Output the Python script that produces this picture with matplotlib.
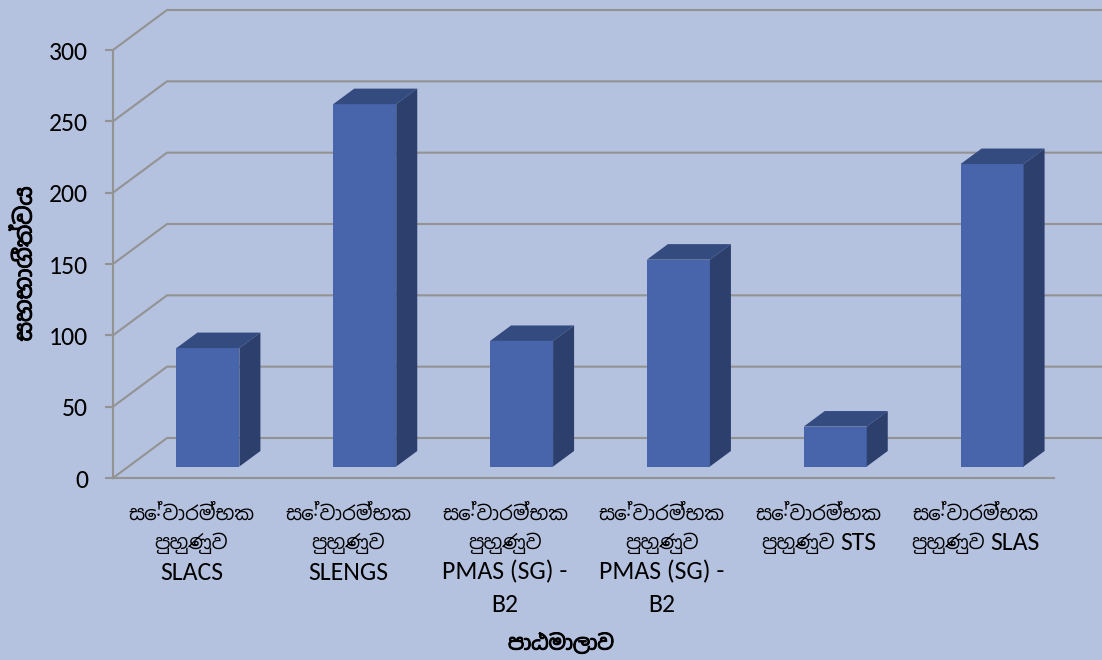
import matplotlib
matplotlib.use('Agg')
import logging
import matplotlib.pyplot as plt
import matplotlib.patheffects as pe

logging.getLogger('matplotlib.font_manager').setLevel(logging.ERROR)
plt.rcParams['font.family'] = ['Carlito', 'Lato', 'Noto Sans Sinhala', 'Noto Serif Sinhala', 'DejaVu Sans']

courses = [
    ['සේවාරම්භක', 'පුහුණුව', 'SLACS'],
    ['සේවාරම්භක', 'පුහුණුව', 'SLENGS'],
    ['සේවාරම්භක', 'පුහුණුව', 'PMAS (SG) -', 'B2'],
    ['සේවාරම්භක', 'පුහුණුව', 'PMAS (SG) -', 'B2'],
    ['සේවාරම්භක', 'පුහුණුව STS'],
    ['සේවාරම්භක', 'පුහුණුව SLAS'],
]
participants = [83, 254, 88, 145, 28, 212]
y_ticks = [0, 50, 100, 150, 200, 250, 300]
x_title = 'පාඨමාලාව'
y_title = 'සහභාගීත්වය'

BG = '#b4c1df'
GRID = '#939393'
FRONT = '#4865ab'
TOP = '#344b80'
SIDE = '#2c3f6d'
SI_SIZE = 14.1
LAT_SIZE = 18.5
LINE_PX = [35, 65, 94, 126]  # label line centres, px below the axis

W, H = 1102, 660
fig = plt.figure(figsize=(W / 100, H / 100), dpi=100, facecolor=BG)
ax = fig.add_axes([113 / W, 1 - 478 / H, 941 / W, 428 / H])
ax.patch.set_visible(False)
ax.set_xlim(-0.5, 5.5)
ax.set_ylim(0, 300)

# fake 3d depth, converted from pixels to data units
px_x = 6 / 941
px_y = 300 / 428
wall_dx, wall_dy = 54 * px_x, 40 * px_y
bar_dx, bar_dy = 21 * px_x, 15.5 * px_y
floor = 11.5 * px_y
shift = 16.5 * px_x
bar_w = 63 * px_x

# back wall lines
x0 = -0.5
x_end = x0 + (W - 113) * px_x
for v in y_ticks:
    ax.plot([x0, x0 + wall_dx, x_end], [v, v + wall_dy, v + wall_dy],
            color=GRID, lw=1.5, clip_on=False, zorder=1, solid_joinstyle='miter')

for i, v in enumerate(participants):
    left = i + shift - bar_w / 2
    right = left + bar_w
    top = floor + v
    ax.bar(i + shift, v, bottom=floor, width=bar_w, color=FRONT, zorder=3)
    ax.fill([left, right, right + bar_dx, left + bar_dx],
            [top, top, top + bar_dy, top + bar_dy], color=TOP, lw=0, zorder=3)
    ax.fill([right, right + bar_dx, right + bar_dx, right],
            [floor, floor + bar_dy, top + bar_dy, top], color=SIDE, lw=0, zorder=3)

for s in ['top', 'right']:
    ax.spines[s].set_visible(False)
for s in ['left', 'bottom']:
    ax.spines[s].set_color(GRID)
    ax.spines[s].set_linewidth(1.5)

ax.set_yticks(y_ticks)
ax.tick_params(axis='y', length=6, width=1.5, color=GRID, pad=12, labelsize=LAT_SIZE)
ax.set_xticks(range(len(courses)))
ax.set_xticklabels([])
ax.tick_params(axis='x', length=0)


def label_part(i, row, part, dx=0.0, ha='center'):
    size = LAT_SIZE if part.isascii() else SI_SIZE
    return ax.annotate(part, xy=(i, 0), xytext=(dx, -LINE_PX[row] * 0.72), xycoords='data',
                       textcoords='offset points', ha=ha, va='center', fontsize=size,
                       annotation_clip=False)


# category labels: sinhala and latin need different sizes, so each piece is its own text
renderer = fig.canvas.get_renderer()
for i, lines in enumerate(courses):
    for row, line in enumerate(lines):
        parts = line.split(' ')
        if len(parts) == 2 and not parts[0].isascii():
            a = label_part(i, row, parts[0], ha='left')
            b = label_part(i, row, parts[1], ha='left')
            wa = a.get_window_extent(renderer).width * 0.72
            wb = b.get_window_extent(renderer).width * 0.72
            gap = 4.0
            start = -(wa + wb + gap) / 2
            a.set_position((start, -LINE_PX[row] * 0.72))
            b.set_position((start + wa + gap, -LINE_PX[row] * 0.72))
        else:
            label_part(i, row, line)

bold = [pe.withStroke(linewidth=0.7, foreground='black')]
ax.set_xlabel(x_title, fontsize=14.7, fontweight='bold', style='italic', path_effects=bold)
ax.xaxis.set_label_coords((561 - 113) / 941, (478 - 643) / 428)
ax.xaxis.label.set_va('center')
ax.set_ylabel(y_title, fontsize=17, fontweight='bold', style='italic', path_effects=bold)
ax.yaxis.set_label_coords((24 - 113) / 941, 0.5)
ax.yaxis.label.set_va('center')

fig.savefig('out.png', dpi=100, facecolor=BG)
